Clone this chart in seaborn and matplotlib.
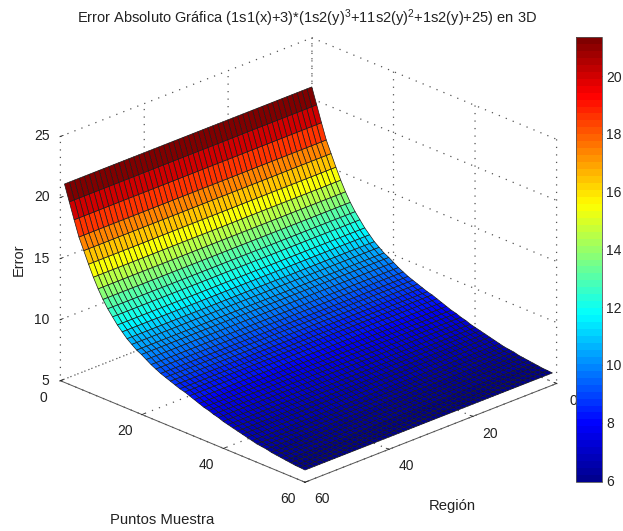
import numpy as np
import matplotlib
matplotlib.use("Agg")
import matplotlib.pyplot as plt
from matplotlib.colors import Normalize, LinearSegmentedColormap
from matplotlib.cm import ScalarMappable
from mpl_toolkits.mplot3d import proj3d
import seaborn as sns

# === DATOS ===
# error, una fila por cada linea de la malla (depende casi solo de Puntos Muestra)
error_fila = [21.25, 19.95, 18.65, 17.4, 16.45, 15.5, 14.6, 13.8, 13.1, 12.5,
              12.0, 11.5, 11.1, 10.7, 10.4, 10.1, 9.9, 9.65, 9.4, 9.2,
              9.0, 8.85, 8.7, 8.55, 8.4, 8.3, 8.15, 8.0, 7.85, 7.7,
              7.6, 7.45, 7.35, 7.2, 7.1, 7.0, 6.9, 6.8, 6.7, 6.6,
              6.5, 6.45, 6.4, 6.3, 6.25, 6.2, 6.15, 6.1, 6.05, 6.03, 6.0]
ticks_xy = [0, 20, 40, 60]
ticks_z = [5, 10, 15, 20, 25]
ticks_barra = [6, 8, 10, 12, 14, 16, 18, 20]
titulo = "Error Absoluto Gráfica (1s1(x)+3)*(1s2(y)$^{3}$+11s2(y)$^{2}$+1s2(y)+25) en 3D"

# === ESTILO ===
sns.set_theme(style="white")
plt.rcParams["font.family"] = ["Liberation Sans", "DejaVu Sans"]
plt.rcParams["mathtext.fontset"] = "custom"
plt.rcParams["mathtext.rm"] = "Liberation Sans"
plt.rcParams["mathtext.default"] = "regular"

W, H = 623, 531
fig = plt.figure(figsize=(W / 100, H / 100), dpi=100, facecolor="white")
lado = 547
ax = fig.add_axes([27.6 / W, -9.9 / H, lado / W, lado / H], projection="3d", facecolor="none")
ax.set_proj_type("ortho")
ax.view_init(elev=23.8, azim=45.8)
ax.set_box_aspect((351, 351, 267), zoom=1)

# === SUPERFICIE ===
# jet de MATLAB con 64 niveles
jet = LinearSegmentedColormap.from_list("jet_matlab", [
    (0, (0, 0, 0.5625)), (1 / 8, (0, 0, 1)), (3 / 8, (0, 1, 1)),
    (5 / 8, (1, 1, 0)), (7 / 8, (1, 0, 0)), (1, (0.5, 0, 0))], N=64)
norma = Normalize(vmin=5.95, vmax=21.35)
puntos = np.linspace(1, 60, len(error_fila))
region = np.linspace(1, 60, len(error_fila))
X, Y = np.meshgrid(region, puntos)
Z = np.tile(np.array(error_fila)[:, None], (1, len(region)))
ax.plot_surface(X, Y, Z, facecolors=jet(norma(Z)), rstride=1, cstride=1,
                shade=False, edgecolor="#1a1a1a", linewidth=0.5, antialiased=True)

# === EJES ===
ax.set_xlim(0, 60, view_margin=0)
ax.set_ylim(0, 60, view_margin=0)
ax.set_zlim(5, 25, view_margin=0)
ax.set_xticks(ticks_xy)
ax.set_yticks(ticks_xy)
ax.set_zticks(ticks_z)
for eje in (ax.xaxis, ax.yaxis, ax.zaxis):
    eje.set_pane_color((1, 1, 1, 0))
    eje.pane.set_edgecolor("none")
    eje._axinfo["tick"]["inward_factor"] = 0.03
    eje._axinfo["tick"]["outward_factor"] = 0.14
    eje._axinfo["tick"]["linewidth"] = {True: 0.6, False: 0.6}
    eje._axinfo["tick"]["color"] = "#555555"
    eje._axinfo["grid"].update(color="#555555", linestyle=(0, (1, 5)), linewidth=0.9)
    for tick in eje.get_major_ticks():
        tick.label1.set_visible(False)
for eje in (ax.xaxis, ax.yaxis):
    eje.line.set_color("#555555")
    eje.line.set_linewidth(0.7)
ax.zaxis.line.set_color((0, 0, 0, 0))


# etiquetas de los ticks colocadas a mano, la posicion automatica de mplot3d no coincide
def etiqueta(x, y, z, texto, ha="center"):
    px, py, _ = proj3d.proj_transform(x, y, z, ax.get_proj())
    ax.text2D(px, py, texto, transform=ax.transData, ha=ha, va="center", fontsize=10, color="#222222")


for t in ticks_xy:
    etiqueta(t, 64.2, 4.18, str(t))
    etiqueta(64.05, t, 4.17, str(t))
for t in ticks_z:
    etiqueta(61.33, -1.33, t, str(t), ha="right")

fig.text(307 / W, 1 - 18 / H, titulo, ha="center", va="center", fontsize=10.55, color="#222222")
fig.text(162 / W, 1 - 520 / H, "Puntos Muestra", ha="center", va="center", fontsize=10.7, color="#222222")
fig.text(452 / W, 1 - 506 / H, "Región", ha="center", va="center", fontsize=10.7, color="#222222")
fig.text(19 / W, 1 - 260 / H, "Error", ha="center", va="center", rotation=90, fontsize=10.5, color="#222222")

# === BARRA DE COLOR ===
cax = fig.add_axes([576 / W, 1 - 482 / H, 26 / W, 445 / H])
barra = fig.colorbar(ScalarMappable(norm=norma, cmap=jet), cax=cax)
barra.set_ticks(ticks_barra)
cax.tick_params(axis="y", direction="in", left=True, right=True, length=3, width=0.6,
                labelsize=10, colors="#222222", pad=3)
barra.outline.set_linewidth(0.6)
barra.outline.set_edgecolor("#555555")

fig.savefig("out.png", dpi=100)
